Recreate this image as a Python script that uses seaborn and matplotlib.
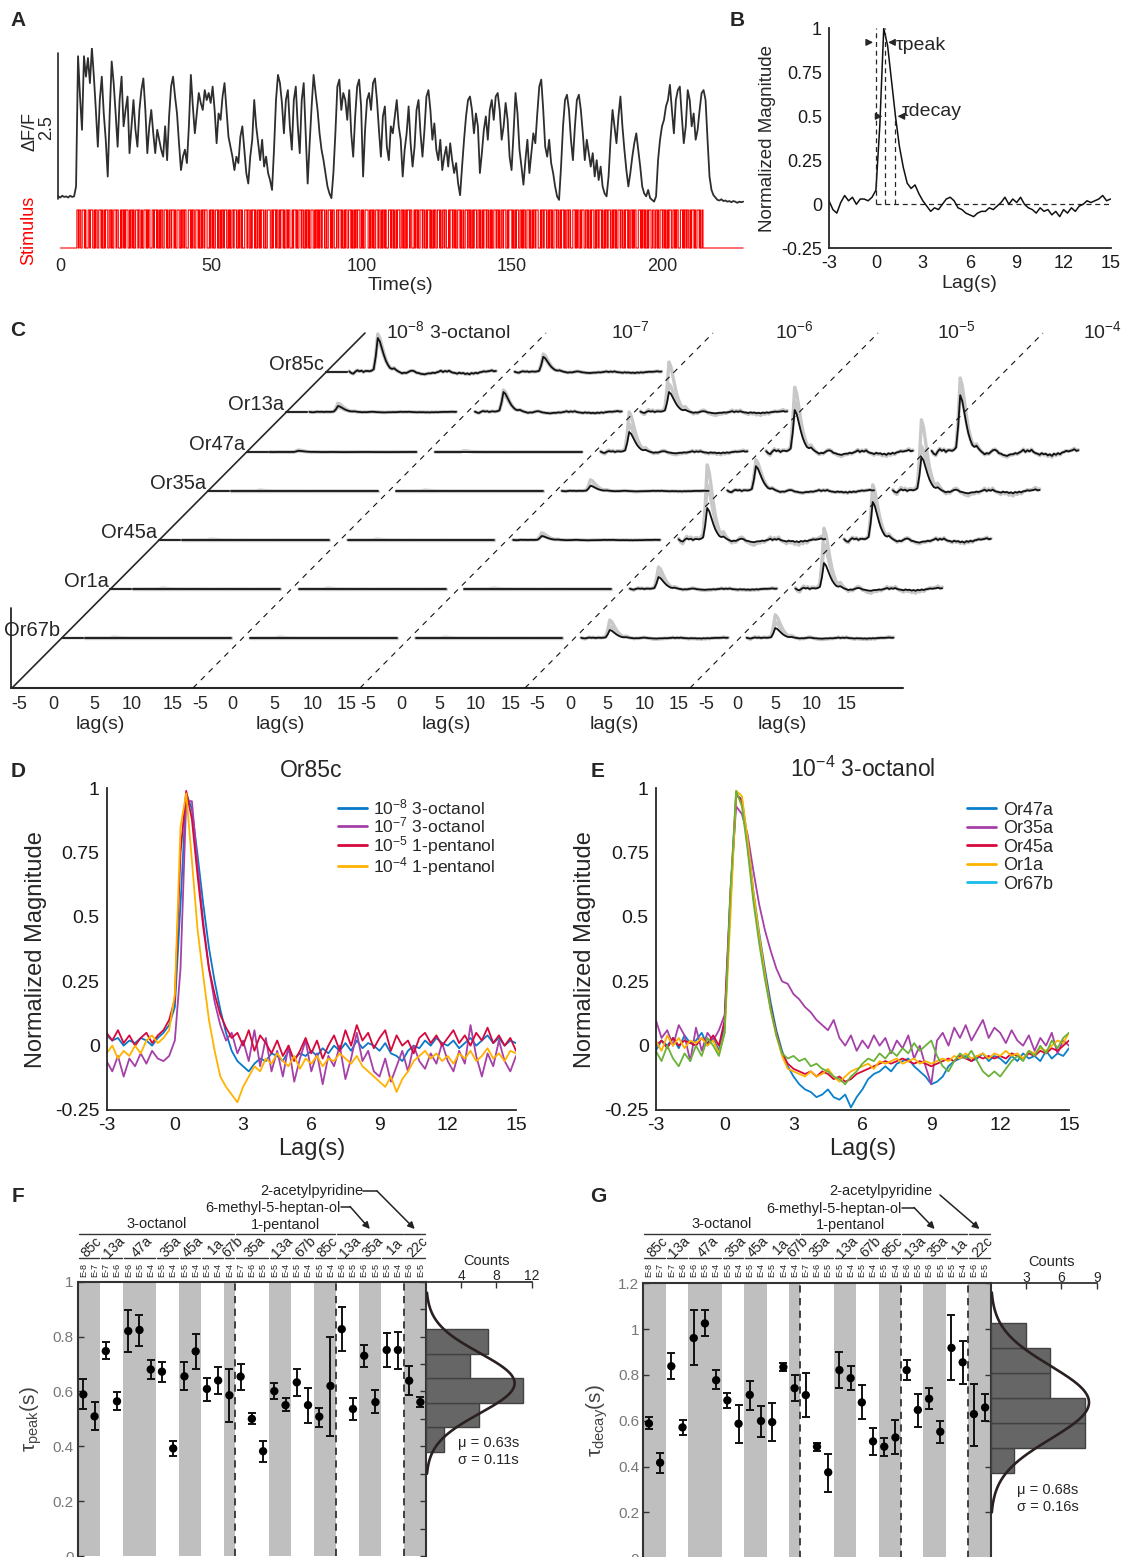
import numpy as np
import pandas as pd
import matplotlib
matplotlib.use("Agg")
import matplotlib.pyplot as plt
from matplotlib.lines import Line2D
from matplotlib.ticker import MultipleLocator
from matplotlib.transforms import blended_transform_factory
import seaborn as sns

sns.set_theme(style="white")
plt.rcParams["font.family"] = ["Liberation Sans", "DejaVu Sans"]
plt.rcParams["mathtext.fontset"] = "custom"
plt.rcParams["mathtext.rm"] = "Liberation Sans"
plt.rcParams["mathtext.it"] = "Liberation Sans:italic"
plt.rcParams["mathtext.bf"] = "Liberation Sans:bold"
plt.rcParams["axes.unicode_minus"] = False

# ---------------------------------------------------------------- data
# A: calcium trace (dF/F), evenly sampled from -0.75 s to 226.8 s
trace_dff = [
    0.05, 0.03, 0.06, 0.04, 0.05, 0.03, 0.06, 0.04, 0.05, 0.22,
    2.45, 1.76, 1.19, 2.45, 2.10, 2.42, 1.99, 2.59, 2.10, 1.53, 0.90, 1.70, 2.10, 1.47, 1.02, 0.39,
    1.47, 2.36, 1.99, 1.47, 0.90, 1.70, 2.10, 1.25, 1.53, 1.76, 0.79, 1.25, 1.70, 1.19, 0.90, 1.53,
    1.87, 2.07, 1.53, 0.79, 1.25, 1.53, 1.13, 0.79, 1.19, 1.02, 0.85, 0.73, 1.25, 0.67, 1.42, 1.93,
    2.10, 1.76, 1.47, 0.96, 0.50, 0.73, 0.85, 0.62, 1.25, 2.13, 1.59, 1.13, 1.47, 1.82, 1.65, 1.53,
    1.87, 1.70, 1.82, 1.65, 1.93, 1.53, 0.96, 1.47, 1.36, 1.76, 1.99, 1.53, 1.07, 0.90, 0.73, 0.50,
    0.73, 0.62, 1.07, 1.25, 0.85, 0.45, 0.27, 0.73, 1.02, 1.70, 1.25, 0.96, 0.67, 1.02, 0.56, 0.73,
    0.45, 0.33, 0.16, 0.85, 1.70, 2.13, 1.99, 1.65, 1.13, 1.70, 1.87, 1.25, 0.85, 1.70, 1.93, 1.25,
    0.79, 1.70, 1.99, 1.13, 0.27, 0.96, 1.59, 2.13, 1.82, 1.53, 1.13, 0.85, 0.67, 0.45, 0.22, 0.10,
    0.02, 0.45, 1.13, 1.93, 2.05, 1.53, 1.82, 1.70, 1.36, 1.87, 1.13, 0.73, 1.42, 1.93, 2.05, 1.59,
    0.39, 1.19, 1.70, 1.82, 1.53, 1.99, 2.07, 1.70, 1.19, 0.73, 1.42, 1.59, 0.90, 0.67, 1.25, 1.13,
    1.42, 1.70, 1.25, 1.02, 0.39, 0.85, 1.13, 1.59, 0.96, 0.56, 0.90, 1.53, 1.70, 1.13, 0.73, 1.19,
    1.76, 1.87, 1.53, 1.02, 1.30, 0.85, 0.67, 1.02, 0.50, 0.73, 0.90, 0.56, 0.96, 0.67, 0.45, 0.62,
    0.27, 0.07, 0.56, 1.02, 1.42, 1.70, 1.76, 1.53, 1.13, 1.47, 1.25, 0.45, 0.79, 1.19, 1.42, 1.02,
    1.53, 1.70, 1.36, 1.76, 1.82, 1.53, 1.02, 1.25, 1.65, 1.36, 0.73, 0.50, 1.13, 1.82, 1.47, 0.85,
    0.56, 0.25, 0.67, 1.02, 0.45, 0.79, 1.13, 0.96, 1.47, 1.93, 2.05, 1.53, 0.90, 0.73, 1.02, 0.62,
    0.45, 0.22, 0.05, -0.01, 0.56, 1.25, 1.70, 1.79, 1.53, 1.02, 0.67, 1.25, 1.70, 1.79, 1.53, 1.13,
    0.67, 1.02, 0.79, 0.56, 0.79, 0.39, 0.67, 0.33, 0.56, 0.22, 0.10, 0.05, 0.39, 1.02, 1.53, 1.25,
    0.96, 1.42, 1.76, 1.25, 0.85, 0.50, 0.22, 0.45, 0.73, 0.96, 1.13, 0.85, 0.56, 0.22, 0.10, 0.05,
    0.16, 0.02, -0.01, -0.04, 0.05, 0.67, 1.02, 1.25, 1.36, 1.59, 1.70, 1.96, 1.53, 1.13, 1.70, 1.87,
    1.93, 1.42, 0.96, 1.25, 1.87, 1.70, 1.25, 1.47, 1.02, 1.19, 1.53, 1.82, 1.87, 1.70, 1.02, 0.39,
    0.16, 0.07, 0.03, -0.01, -0.02, 0.00, -0.03, -0.02, -0.04, -0.03, -0.05, -0.03, -0.04, -0.06,
    -0.04, -0.05, -0.04,
]
trace_t_start, trace_t_end = -0.75, 226.8

# A: stimulus state in 0.25 s bins starting at 5.45 s
stim_onset, stim_bin = 5.45, 0.25
stim_bits = (
    "1101100111010001101110010110011101001011100110100111011000101101"
    "0111001011010011101100100111010110001101110100101100111010011011"
    "1010011100101101100011101011001110100101101110001011010011101001"
    "0110111001010011011100101101000111011001011101001101011100100111"
    "1001011101100101110100110110001011101001110110010110100111001011"
    "0101101110010011101011000110111010010110011101001011011100101001"
    "1110010110100111011001011010001110110100101110011010010111011000"
    "1011010011101100101110100101100111010011011000101110110100111010"
    "0100111011010010111001101001011101100101001110110100110111001011"
    "1101001011100110101100111010010110111000101101110010110100111011"
    "0010111010011011000111010110010111001101001011100101101110100101"
    "1011100101101001110110010111010011010110001110101101001011100110"
    "0110100111011010010111001101011000111010110110010111010011101001"
)

# B: example normalized kernel, lag -3..15 s in 0.25 s steps
lag = np.arange(-3, 15.001, 0.25)
kernel_b = [
    0.02, -0.03, -0.05, 0.01, 0.05, 0.02, 0.04, 0.00, 0.03, 0.03, 0.02, 0.04,
    0.08, 0.45, 1.00, 0.90, 0.70, 0.50, 0.33, 0.21, 0.12, 0.09, 0.11, 0.06,
    0.02, -0.01, -0.04, -0.02, -0.03, 0.00, 0.03, 0.04, 0.02, -0.02, -0.03, -0.05,
    -0.06, -0.07, -0.05, -0.04, -0.04, -0.02, -0.03, -0.01, 0.01, 0.04, 0.00, 0.03,
    0.01, 0.04, 0.00, -0.02, -0.03, -0.05, -0.02, -0.04, -0.03, -0.06, -0.04, -0.07,
    -0.03, -0.05, -0.02, -0.04, -0.01, 0.00, 0.02, 0.01, 0.02, 0.03, 0.05, 0.02, 0.03,
]
tau_peak_lag, tau_decay_lag = 0.6, 1.2

# C: receptor x concentration response amplitudes (units of 40 px), gray = repeats
c_rows = ["Or85c", "Or13a", "Or47a", "Or35a", "Or45a", "Or1a", "Or67b"]
c_conc = ["10$^{-8}$ 3-octanol", "10$^{-7}$", "10$^{-6}$", "10$^{-5}$", "10$^{-4}$"]
c_black = [
    [0.85, 0.38],
    [0.15, 0.50, 0.50],
    [0.03, 0.00, 0.50, 1.05, 1.42],
    [0.00, 0.00, 0.13, 0.62, 0.85],
    [0.00, 0.00, 0.10, 0.80, 0.95],
    [0.00, 0.00, 0.00, 0.30, 0.65],
    [0.00, 0.00, 0.00, 0.20, 0.25],
]
c_gray = [
    [[0.95, 0.80], [0.45, 0.35]],
    [[0.22, 0.12], [0.55, 0.45], [1.25, 0.70]],
    [[0.05, 0.02], [0.03, 0.02], [1.00, 0.70], [1.62, 1.25], [1.85, 1.50]],
    [[0.02, 0.00], [0.02, 0.00], [0.28, 0.15], [0.78, 0.68], [1.78, 1.12]],
    [[0.02, 0.00], [0.02, 0.00], [0.18, 0.10], [1.88, 1.38], [1.38, 1.12]],
    [[0.02, 0.00], [0.02, 0.00], [0.02, 0.00], [0.55, 0.40], [1.52, 1.12]],
    [[0.02, 0.00], [0.02, 0.00], [0.02, 0.00], [0.45, 0.30], [0.58, 0.40]],
]
c_tick_vals = ["-5", "0", "5", "10", "15"]

# D: Or85c kernels
d_labels = ["10$^{-8}$ 3-octanol", "10$^{-7}$ 3-octanol", "10$^{-5}$ 1-pentanol", "10$^{-4}$ 1-pentanol"]
d_oct8 = [
    0.04, 0.02, 0.03, 0.00, 0.02, 0.01, 0.03, 0.02, 0.00, 0.03, 0.05, 0.08,
    0.15, 0.55, 0.98, 0.92, 0.74, 0.55, 0.38, 0.25, 0.14, 0.05, -0.02, -0.06,
    -0.08, -0.10, -0.07, -0.05, -0.06, -0.03, -0.04, -0.06, -0.02, -0.05, -0.03, -0.04,
    -0.02, -0.04, -0.01, -0.03, 0.00, -0.02, 0.01, -0.02, 0.02, -0.01, 0.01, 0.00,
    -0.02, 0.01, -0.03, -0.04, -0.06, -0.02, 0.00, -0.01, 0.02, 0.00, 0.03, 0.01,
    0.00, 0.02, -0.01, 0.01, 0.03, 0.00, 0.02, 0.04, 0.01, 0.03, 0.00, 0.02, 0.01,
]
d_oct7 = [
    -0.06, -0.10, -0.04, -0.12, -0.05, -0.08, -0.03, -0.07, -0.02, -0.05, -0.06, -0.04,
    0.02, 0.30, 0.95, 0.95, 0.70, 0.48, 0.30, 0.17, 0.08, 0.02, 0.05, -0.03,
    0.02, -0.06, 0.06, -0.08, 0.03, -0.10, -0.02, -0.12, 0.00, -0.14, -0.05, 0.02,
    -0.10, -0.03, -0.15, -0.04, -0.08, 0.00, -0.13, -0.05, 0.05, -0.06, -0.02, -0.10,
    -0.12, -0.05, -0.14, -0.08, -0.02, -0.10, 0.00, -0.06, -0.09, -0.03, -0.07, 0.01,
    -0.06, -0.10, -0.02, -0.07, 0.08, -0.04, -0.12, -0.03, -0.08, 0.02, -0.06, -0.10, -0.04,
]
d_pent5 = [
    0.05, 0.02, 0.06, 0.01, 0.04, 0.00, 0.03, 0.05, 0.01, 0.04, 0.06, 0.10,
    0.18, 0.75, 0.99, 0.88, 0.66, 0.46, 0.30, 0.20, 0.12, 0.07, 0.03, 0.05,
    0.00, 0.06, -0.02, 0.04, 0.01, -0.03, 0.02, -0.04, 0.00, -0.06, -0.02, 0.03,
    -0.03, 0.02, -0.05, 0.00, 0.04, -0.02, 0.06, 0.00, 0.08, 0.02, 0.05, -0.01,
    0.03, 0.06, -0.02, 0.04, 0.00, 0.02, -0.03, 0.03, 0.05, 0.01, 0.04, 0.00,
    0.03, 0.06, 0.01, 0.04, 0.00, 0.05, 0.02, 0.07, 0.01, 0.04, 0.00, 0.03, -0.02,
]
d_pent4 = [
    -0.03, 0.00, -0.05, -0.02, -0.04, 0.00, -0.03, 0.02, 0.04, 0.01, 0.03, 0.06,
    0.20, 0.85, 0.98, 0.72, 0.45, 0.27, 0.10, -0.02, -0.12, -0.16, -0.19, -0.22,
    -0.16, -0.12, -0.08, -0.10, -0.05, -0.07, -0.03, -0.06, -0.08, -0.04, -0.09, -0.05,
    -0.07, -0.04, -0.08, -0.05, -0.06, -0.03, -0.05, -0.07, -0.04, -0.08, -0.10, -0.12,
    -0.14, -0.16, -0.12, -0.18, -0.13, -0.10, -0.06, -0.04, -0.02, -0.05, -0.03, -0.06,
    -0.04, -0.07, -0.03, -0.05, -0.02, -0.06, -0.04, -0.01, -0.05, -0.03, -0.06, -0.02, -0.03,
]

# E: 10^-4 3-octanol kernels
e_labels = ["Or47a", "Or35a", "Or45a", "Or1a", "Or67b"]
e_or47a = [
    -0.02, 0.02, 0.00, 0.03, -0.01, 0.04, 0.01, 0.02, 0.05, 0.00, 0.03, -0.02,
    0.08, 0.55, 0.97, 0.96, 0.80, 0.60, 0.44, 0.30, 0.17, 0.06, -0.02, -0.08,
    -0.12, -0.15, -0.17, -0.18, -0.20, -0.19, -0.17, -0.20, -0.21, -0.19, -0.24, -0.20,
    -0.17, -0.13, -0.11, -0.10, -0.08, -0.10, -0.07, -0.06, -0.05, -0.08, -0.10, -0.12,
    -0.15, -0.14, -0.12, -0.08, -0.06, -0.05, -0.04, -0.06, -0.05, -0.03, -0.06, -0.04,
    -0.05, -0.07, -0.04, -0.06, -0.03, -0.05, -0.04, -0.06, -0.02, -0.05, -0.03, -0.04, -0.01,
]
e_or35a = [
    0.10, 0.03, 0.06, 0.00, 0.08, 0.04, -0.06, 0.07, -0.02, 0.05, 0.02, 0.06,
    0.12, 0.60, 0.93, 0.90, 0.82, 0.68, 0.55, 0.45, 0.37, 0.30, 0.25, 0.24,
    0.20, 0.18, 0.15, 0.13, 0.10, 0.08, 0.06, 0.10, 0.03, 0.00, 0.04, -0.02,
    0.02, -0.01, 0.04, 0.00, 0.03, -0.03, 0.02, -0.01, 0.04, -0.05, 0.00, -0.08,
    -0.15, 0.02, 0.05, 0.00, 0.07, 0.03, 0.08, 0.02, 0.06, 0.10, 0.03, 0.07,
    0.05, 0.01, 0.06, 0.02, 0.00, 0.04, -0.02, 0.03, 0.00, 0.05, -0.03, 0.02, 0.00,
]
e_or45a = [
    0.00, 0.02, -0.01, 0.03, 0.00, 0.02, 0.01, 0.00, 0.03, 0.01, 0.04, 0.00,
    0.10, 0.58, 0.98, 0.95, 0.78, 0.58, 0.42, 0.28, 0.15, 0.05, -0.03, -0.07,
    -0.09, -0.10, -0.11, -0.10, -0.12, -0.10, -0.11, -0.13, -0.12, -0.14, -0.13, -0.11,
    -0.10, -0.09, -0.08, -0.07, -0.06, -0.07, -0.06, -0.05, -0.06, -0.07, -0.06, -0.07,
    -0.08, -0.07, -0.06, -0.05, -0.06, -0.04, -0.05, -0.06, -0.04, -0.05, -0.04, -0.05,
    -0.04, -0.05, -0.03, -0.04, -0.05, -0.03, -0.04, -0.02, -0.03, -0.01, -0.02, 0.00, 0.02,
]
e_or1a = [
    0.02, -0.02, 0.04, 0.00, 0.03, -0.01, 0.02, 0.01, 0.03, 0.00, 0.02, -0.03,
    0.05, 0.50, 0.99, 0.97, 0.80, 0.60, 0.43, 0.28, 0.14, 0.04, -0.04, -0.09,
    -0.10, -0.11, -0.12, -0.10, -0.12, -0.11, -0.09, -0.12, -0.14, -0.12, -0.10, -0.09,
    -0.08, -0.07, -0.09, -0.06, -0.07, -0.06, -0.05, -0.07, -0.06, -0.05, -0.07, -0.06,
    -0.07, -0.06, -0.05, -0.06, -0.04, -0.05, -0.03, -0.05, -0.04, -0.03, -0.05, -0.03,
    -0.04, -0.02, -0.04, -0.03, -0.05, -0.02, -0.03, -0.01, -0.02, 0.00, 0.02, 0.01, 0.05,
]
e_or67b = [
    -0.02, -0.06, 0.00, -0.05, -0.08, -0.03, -0.06, 0.00, -0.04, 0.03, 0.00, -0.04,
    0.05, 0.60, 0.99, 0.93, 0.76, 0.56, 0.40, 0.26, 0.14, 0.04, -0.03, -0.05,
    -0.04, -0.06, -0.05, -0.08, -0.07, -0.09, -0.10, -0.12, -0.13, -0.15, -0.12, -0.10,
    -0.07, -0.05, -0.06, -0.03, -0.05, -0.02, -0.04, -0.01, -0.03, 0.01, -0.02, 0.00,
    0.02, -0.04, -0.08, -0.10, -0.06, -0.03, -0.05, -0.02, -0.06, -0.10, -0.12, -0.10,
    -0.12, -0.09, -0.06, -0.04, -0.06, -0.02, -0.04, 0.00, -0.03, 0.02, -0.01, 0.03, 0.05,
]

# F/G: receptor groups, concentrations and odorants
receptors = ["85c", "13a", "47a", "35a", "45a", "1a", "67b",
             "35a", "13a", "67b", "85c", "13a", "35a", "1a", "22c"]
receptor_concs = [["E-8", "E-7"], ["E-7", "E-6"], ["E-6", "E-5", "E-4"], ["E-5", "E-4"],
                  ["E-5", "E-4"], ["E-5", "E-4"], ["E-4"], ["E-7", "E-6", "E-5"],
                  ["E-5", "E-4"], ["E-5", "E-4"], ["E-5", "E-4"], ["E-6", "E-5"],
                  ["E-6", "E-5"], ["E-5", "E-4"], ["E-6", "E-5"]]
odorants = ["3-octanol", "1-pentanol", "6-methyl-5-heptan-ol", "2-acetylpyridine"]
odorant_groups = [7, 4, 3, 1]

tau_peak = [0.589, 0.509, 0.747, 0.564, 0.820, 0.824, 0.680, 0.672, 0.392, 0.655, 0.746,
            0.609, 0.640, 0.586, 0.654, 0.500, 0.382, 0.601, 0.550, 0.633, 0.550, 0.508,
            0.620, 0.827, 0.536, 0.730, 0.561, 0.751, 0.751, 0.639, 0.561]
tau_peak_lo = [0.535, 0.460, 0.717, 0.532, 0.742, 0.767, 0.645, 0.633, 0.364, 0.604, 0.680,
               0.566, 0.589, 0.488, 0.604, 0.480, 0.344, 0.573, 0.527, 0.582, 0.486, 0.471,
               0.437, 0.747, 0.495, 0.690, 0.520, 0.689, 0.683, 0.587, 0.542]
tau_peak_hi = [0.645, 0.560, 0.780, 0.598, 0.897, 0.880, 0.713, 0.708, 0.420, 0.706, 0.810,
               0.648, 0.688, 0.680, 0.701, 0.520, 0.419, 0.629, 0.575, 0.682, 0.614, 0.540,
               0.797, 0.908, 0.576, 0.770, 0.604, 0.814, 0.818, 0.693, 0.580]
tau_peak_bins = [0.38, 0.4695, 0.559, 0.6485, 0.738, 0.8275]
tau_peak_mu, tau_peak_sd = 0.63, 0.11

tau_decay = [0.588, 0.417, 0.838, 0.571, 0.961, 1.025, 0.777, 0.689, 0.587, 0.713, 0.599,
             0.594, 0.834, 0.742, 0.712, 0.487, 0.375, 0.821, 0.786, 0.680, 0.510, 0.487,
             0.527, 0.821, 0.647, 0.696, 0.552, 0.918, 0.855, 0.629, 0.658]
tau_decay_lo = [0.562, 0.373, 0.782, 0.536, 0.843, 0.968, 0.737, 0.657, 0.505, 0.647, 0.530,
                0.513, 0.817, 0.686, 0.616, 0.469, 0.290, 0.745, 0.734, 0.607, 0.450, 0.447,
                0.453, 0.780, 0.574, 0.652, 0.504, 0.778, 0.761, 0.490, 0.600]
tau_decay_hi = [0.617, 0.460, 0.897, 0.604, 1.084, 1.084, 0.820, 0.722, 0.668, 0.775, 0.665,
                0.676, 0.852, 0.798, 0.807, 0.504, 0.456, 0.898, 0.837, 0.754, 0.568, 0.525,
                0.604, 0.865, 0.716, 0.741, 0.600, 1.061, 0.948, 0.761, 0.716]
tau_decay_bins = [0.373, 0.481, 0.590, 0.698, 0.807, 0.916, 1.025]
tau_decay_mu, tau_decay_sd = 0.68, 0.16

# ---------------------------------------------------------------- layout helpers
W, H = 1124, 1557
INK = "#262626"
fig = plt.figure(figsize=(W / 100, H / 100), dpi=100)
fig.patch.set_facecolor("white")


def px_axes(x0, y0, x1, y1):
    ax = fig.add_axes([x0 / W, 1 - y1 / H, (x1 - x0) / W, (y1 - y0) / H])
    ax.patch.set_alpha(0)
    return ax


def style_axes(ax, fs=13):
    for s in ("top", "right"):
        ax.spines[s].set_visible(False)
    for s in ("left", "bottom"):
        ax.spines[s].set_color(INK)
        ax.spines[s].set_linewidth(1.3)
    ax.tick_params(direction="in", length=5, width=1.1, color=INK,
                   labelsize=fs, labelcolor="#1a1a1a", pad=5)


canvas = px_axes(0, 0, W, H)
canvas.set_xlim(0, W)
canvas.set_ylim(H, 0)
canvas.axis("off")

for letter, (lx, ly) in {"A": (18, 20), "B": (737, 20), "C": (18, 330), "D": (18, 771),
                         "E": (598, 771), "F": (18, 1196), "G": (598, 1196)}.items():
    canvas.text(lx, ly, letter, fontsize=15, fontweight="bold", ha="center", va="center")

# ---------------------------------------------------------------- A
t0_px, px_per_s = 60.5, 3.01
xl = ((55 - t0_px) / px_per_s, (745 - t0_px) / px_per_s)
axA = px_axes(55, 48, 745, 206)
axA.set_xlim(*xl)
axA.set_ylim((199.3 - 206) / 58.4, (199.3 - 48) / 58.4)
t_trace = np.linspace(trace_t_start, trace_t_end, len(trace_dff))
sns.lineplot(x=t_trace, y=trace_dff, ax=axA, color="#2e2e2e", lw=1.3)
axA.plot([trace_t_start, trace_t_start], [0, 2.5], color=INK, lw=1.2)
axA.axis("off")
canvas.text(30, 131, "ΔF/F", rotation=90, ha="center", va="center", fontsize=13)
canvas.text(47, 128, "2.5", rotation=90, ha="center", va="center", fontsize=13)

axS = px_axes(55, 204, 745, 252)
axS.set_xlim(*xl)
axS.set_ylim((248 - 252) / 38, (248 - 204) / 38)
bits = [int(b) for b in stim_bits]
stim_t = np.concatenate([[0.0], stim_onset + stim_bin * np.arange(len(bits)),
                         [stim_onset + stim_bin * len(bits), trace_t_end]])
stim_y = np.concatenate([[0], bits, [0, 0]])
axS.step(stim_t, stim_y, where="post", color="#FF0000", lw=0.8)
for s in axS.spines.values():
    s.set_visible(False)
axS.set_yticks([])
axS.set_xticks([0, 50, 100, 150, 200])
axS.tick_params(axis="x", length=0, labelsize=13, pad=4)
axS.set_xlabel("Time(s)", fontsize=14, labelpad=2)
canvas.text(29, 230, "Stimulus", rotation=90, ha="center", va="center",
            fontsize=13, color="#FF0000")

# ---------------------------------------------------------------- B
axB = px_axes(829, 28.3, 1110.5, 248.3)
sns.lineplot(x=lag, y=kernel_b, ax=axB, color="#111111", lw=1.1)
axB.set_xlim(-3, 15)
axB.set_ylim(-0.25, 1)
style_axes(axB, 13)
axB.set_xticks([-3, 0, 3, 6, 9, 12, 15])
axB.set_yticks([-0.25, 0, 0.25, 0.5, 0.75, 1])
axB.set_yticklabels(["-0.25", "0", "0.25", "0.5", "0.75", "1"])
axB.set_xlabel("Lag(s)", fontsize=14, labelpad=2)
axB.set_ylabel("Normalized Magnitude", fontsize=13.5, labelpad=4)
dash = (0, (4, 3))
axB.plot([0, 0], [0, 1], ls=dash, color=INK, lw=0.9)
axB.plot([tau_peak_lag] * 2, [0, 1], ls=dash, color=INK, lw=0.9)
axB.plot([tau_decay_lag] * 2, [0, 0.5], ls=dash, color=INK, lw=0.9)
axB.plot([0, 15], [0, 0], ls=dash, color=INK, lw=0.9, zorder=0)
arrow = dict(arrowstyle="-|>", color=INK, lw=1.0, mutation_scale=10)
axB.annotate("", xy=(0, 0.92), xytext=(-0.7, 0.92), arrowprops=arrow)
axB.annotate("", xy=(tau_peak_lag, 0.92), xytext=(1.3, 0.92), arrowprops=arrow)
axB.annotate("", xy=(tau_peak_lag, 0.5), xytext=(-0.15, 0.5), arrowprops=arrow)
axB.annotate("", xy=(tau_decay_lag, 0.5), xytext=(1.9, 0.5), arrowprops=arrow)
axB.text(1.3, 0.9, "τpeak", fontsize=14, va="center", ha="left")
axB.text(1.65, 0.53, "τdecay", fontsize=14, va="center", ha="left")

# ---------------------------------------------------------------- C
tmpl = np.asarray(kernel_b) / max(kernel_b)
amp_px, col_step, c_px_per_s = 40.0, 165.5, 8.15
row_base = [372, 412, 452, 491, 540, 589, 638]


def diag_x(y):
    return 12 + (688 - y) * (353 / 355)


canvas.plot([11, 903], [688, 688], color=INK, lw=1.5)
canvas.plot([11, 11], [608, 688], color=INK, lw=1.3)
canvas.plot([diag_x(688), diag_x(333)], [688, 333], color=INK, lw=1.2)
for off in (181, 348, 513, 678):
    canvas.plot([diag_x(688) + off, diag_x(333) + off], [688, 333],
                color="#111111", lw=0.8, ls=(0, (5, 5)))
for r, name in enumerate(c_rows):
    base = row_base[r]
    dx = diag_x(base)
    canvas.plot([dx, dx + 21], [base, base], color=INK, lw=1.6)
    canvas.text(dx - 2, base - 8, name, ha="right", va="center", fontsize=14.5)
    for c, amp in enumerate(c_black[r]):
        xs = dx + 23 + c * col_step + (lag + 3) * c_px_per_s
        for g in c_gray[r][c]:
            canvas.plot(xs, base - g * amp_px * tmpl, color="#c8c8c8", lw=2.4, zorder=1)
        canvas.plot(xs, base - amp * amp_px * tmpl, color="#111111", lw=1.3, zorder=2)
for x, txt in zip((386, 611, 775, 937, 1083), c_conc):
    canvas.text(x, 331, txt, ha="left", va="center", fontsize=14)
c_tick_px = [[19, 53, 94, 132, 173], [200, 232, 274, 313, 347], [368, 401, 439, 476, 511],
             [537, 570, 607, 645, 679], [706, 737, 775, 812, 847]]
for block, lx in zip(c_tick_px, (100, 280, 446, 614, 782)):
    for x, txt in zip(block, c_tick_vals):
        canvas.text(x, 704, txt, ha="center", va="center", fontsize=13)
    canvas.text(lx, 724, "lag(s)", ha="center", va="center", fontsize=14)

# ---------------------------------------------------------------- D, E


def kernel_panel(x0, x1, series, labels, colors, legend_colors, title, leg_anchor, spacing,
                 leg_fs):
    ax = px_axes(x0, 788.3, x1, 1110)
    df = pd.DataFrame({
        "lag": np.tile(lag, len(series)),
        "value": np.concatenate(series),
        "series": np.repeat(labels, len(lag)),
    })
    sns.lineplot(data=df, x="lag", y="value", hue="series", hue_order=labels,
                 palette=colors, ax=ax, lw=1.3, legend=False, estimator=None)
    ax.set_xlim(-3, 15)
    ax.set_ylim(-0.25, 1)
    style_axes(ax, 14)
    ax.set_xticks([-3, 0, 3, 6, 9, 12, 15])
    ax.set_yticks([-0.25, 0, 0.25, 0.5, 0.75, 1])
    ax.set_yticklabels(["-0.25", "0", "0.25", "0.5", "0.75", "1"])
    ax.set_xlabel("Lag(s)", fontsize=17, labelpad=3)
    ax.set_ylabel("Normalized Magnitude", fontsize=17, labelpad=6)
    ax.set_title(title, fontsize=16.5, pad=8)
    handles = [Line2D([], [], color=c, lw=2) for c in legend_colors]
    ax.legend(handles, labels, loc="upper left", bbox_to_anchor=leg_anchor,
              frameon=False, fontsize=leg_fs, handlelength=1.65, handletextpad=0.35,
              labelspacing=spacing, borderaxespad=0, borderpad=0)
    return ax


d_colors = ["#0A78C8", "#A540A8", "#D6083C", "#FFB300"]
kernel_panel(106.6, 516, [d_oct8, d_oct7, d_pent5, d_pent4], d_labels, d_colors, d_colors,
             "Or85c", (0.565, 0.972), -0.1, 12.6)
e_colors = ["#0A80CC", "#A540A8", "#D6083C", "#FFB300", "#6AB23A"]
e_legend = ["#0A80CC", "#A540A8", "#D6083C", "#FFB300", "#18BCEA"]
kernel_panel(655.8, 1069, [e_or47a, e_or35a, e_or45a, e_or1a, e_or67b], e_labels,
             e_colors, e_legend, "10$^{-4}$ 3-octanol", (0.752, 0.958), 0.08, 13)

# ---------------------------------------------------------------- F, G


def tau_panel(x0, x1, y0, y1, hx1, vals, lo, hi, ymax, ystep, minor, ylabel, bins, mu, sd,
              cmax, cstep, stat_xy, acetyl_xy, methyl_xy, methyl_leader):
    ax = px_axes(x0, y0, x1, y1)
    n = len(vals)
    idx = np.arange(n)
    # alternating receptor bands
    start = 0
    group_spans = []
    for g, concs in enumerate(receptor_concs):
        group_spans.append((start, start + len(concs) - 1))
        if g % 2 == 0:
            ax.axvspan(start - 0.5, start + len(concs) - 0.5, color="#BFBFBF", lw=0, zorder=0)
        start += len(concs)
    # first column of each odorant block
    first_cols = []
    gi = 0
    col = 0
    for k in odorant_groups:
        first_cols.append(col)
        for _ in range(k):
            col += len(receptor_concs[gi])
            gi += 1
    first_cols.append(col)
    for b in first_cols[1:-1]:
        ax.axvline(b - 0.5, color="#333333", lw=1.3, ls=(0, (4, 3)), zorder=1)
    yerr = [np.asarray(vals) - np.asarray(lo), np.asarray(hi) - np.asarray(vals)]
    ax.errorbar(idx, vals, yerr=yerr, fmt="none", ecolor="#111111", elinewidth=1.4,
                capsize=2.8, capthick=1.4, zorder=3)
    sns.scatterplot(x=idx, y=vals, ax=ax, color="#000000", s=36, edgecolor="none", zorder=4)
    ax.set_xlim(-0.5, n - 0.5)
    ax.set_ylim(0, ymax)
    ax.set_xticks([])
    yt = np.round(np.arange(0, ymax + 1e-9, ystep), 2)
    ax.set_yticks(yt)
    ax.set_yticklabels([f"{v:g}" for v in yt])
    for s_ in ("left", "top", "right"):
        ax.spines[s_].set_visible(True)
        ax.spines[s_].set_color("#333333")
        ax.spines[s_].set_linewidth(1.5)
    ax.spines["bottom"].set_visible(False)
    ax.tick_params(axis="y", direction="in", length=4, width=1, color="#333333",
                   labelsize=11, labelcolor="#777777", left=True, right=True, pad=3)
    if minor:
        ax.yaxis.set_minor_locator(MultipleLocator(minor))
        ax.tick_params(axis="y", which="minor", direction="in", length=4, width=1,
                       color="#333333", left=False, right=True)
    ax.set_ylabel(ylabel, fontsize=15, color="#444444", labelpad=6)

    # header: concentrations, receptors, odorants
    tr = blended_transform_factory(ax.transData, canvas.transData)
    col = 0
    for g, (rec, concs) in enumerate(zip(receptors, receptor_concs)):
        for c in concs:
            canvas.text(col, 1270, c, transform=tr, rotation=90, ha="center", va="center",
                        fontsize=6.5, color="#222222")
            col += 1
        a, b = group_spans[g]
        canvas.plot([a - 0.42, b + 0.42], [1258, 1258], transform=tr, color="#333333", lw=1)
        canvas.text((a + b) / 2 + 0.25, 1247, rec, transform=tr, rotation=45, ha="center",
                    va="center", fontsize=10, color="#222222")
    for k in range(len(odorant_groups)):
        a, b = first_cols[k], first_cols[k + 1] - 1
        canvas.plot([a - 0.42, b + 0.42], [1233.5, 1233.5], transform=tr, color="#333333", lw=1)
        if k < 2:
            canvas.text((a + b) / 2, 1224.5, odorants[k], transform=tr, ha="center",
                        va="center", fontsize=10.5, color="#222222")
    tip_y = 1229
    arrow_kw = dict(arrowstyle="-|>", color="#222222", lw=1.1, mutation_scale=10,
                    shrinkA=0, shrinkB=0)
    # 6-methyl-5-heptan-ol
    mx, my = methyl_xy
    canvas.text(mx, my, odorants[2], ha="right", va="center", fontsize=10.5, color="#222222")
    lead_end = mx + methyl_leader
    canvas.plot([mx, lead_end], [my - 1.5, my - 1.5], color="#222222", lw=1.1)
    a, b = first_cols[2], first_cols[3] - 1
    canvas.annotate("", xy=((a + b) / 2, tip_y), xycoords=tr, xytext=(lead_end, my - 1.5),
                    textcoords="data", arrowprops=arrow_kw)
    # 2-acetylpyridine
    ax_, ay_, alead = acetyl_xy
    canvas.text(ax_, ay_, odorants[3], ha="right", va="center", fontsize=10.5, color="#222222")
    if alead > 0:
        canvas.plot([ax_, ax_ + alead], [ay_, ay_], color="#222222", lw=1.1)
        start_pt = (ax_ + alead, ay_)
    else:
        start_pt = (ax_ + 8, ay_ + 4)
    a = first_cols[3]
    canvas.annotate("", xy=(a + 0.5, tip_y), xycoords=tr, xytext=start_pt,
                    textcoords="data", arrowprops=arrow_kw)

    # histogram of the time constants with its normal fit
    axh = px_axes(x1, y0, hx1, y1)
    sns.histplot(y=vals, bins=bins, ax=axh, color="#666666", edgecolor="#424242",
                 alpha=1, linewidth=1.0)
    yy = np.linspace(mu - 3 * sd, mu + 3 * sd, 200)
    bw = bins[1] - bins[0]
    xx = n * bw * np.exp(-0.5 * ((yy - mu) / sd) ** 2) / (sd * np.sqrt(2 * np.pi))
    axh.plot(xx, yy, color="#2a2020", lw=1.9)
    axh.set_xlim(0, cmax)
    axh.set_ylim(0, ymax)
    axh.set_ylabel("")
    axh.set_xlabel("")
    axh.set_yticks([])
    axh.xaxis.tick_top()
    axh.set_xticks(np.arange(cstep, cmax + 0.01, cstep))
    axh.tick_params(axis="x", direction="in", length=4, width=1, color="#333333",
                    labelsize=10, pad=-1, top=True, bottom=False)
    for s_ in ("left", "right", "bottom"):
        axh.spines[s_].set_visible(False)
    axh.spines["top"].set_color("#333333")
    axh.spines["top"].set_linewidth(1.3)
    canvas.text((x1 + hx1) / 2 + 8, y0 - 21, "Counts", ha="center", va="center", fontsize=10.5)
    sx, sy = stat_xy
    canvas.text(sx, sy, f"μ = {mu:.2f}s", ha="left", va="center", fontsize=10.5)
    canvas.text(sx, sy + 17, f"σ = {sd:.2f}s", ha="left", va="center", fontsize=10.5)


tau_panel(77.7, 426, 1281.7, 1556, 531.7, tau_peak, tau_peak_lo, tau_peak_hi, 1.0, 0.2, 0.1,
          r"$\mathregular{\tau_{peak}(s)}$", tau_peak_bins, tau_peak_mu, tau_peak_sd, 12, 4,
          (458, 1443), (363, 1191, 14), (341, 1208), 9)
tau_panel(643.3, 990.7, 1283.3, 1558.2, 1096.7, tau_decay, tau_decay_lo, tau_decay_hi, 1.2,
          0.2, None, r"$\mathregular{\tau_{decay}(s)}$", tau_decay_bins, tau_decay_mu,
          tau_decay_sd, 9, 3, (1017, 1490), (932, 1191, 0), (902, 1209), 12)

fig.savefig("out.png", dpi=100, facecolor="white")
